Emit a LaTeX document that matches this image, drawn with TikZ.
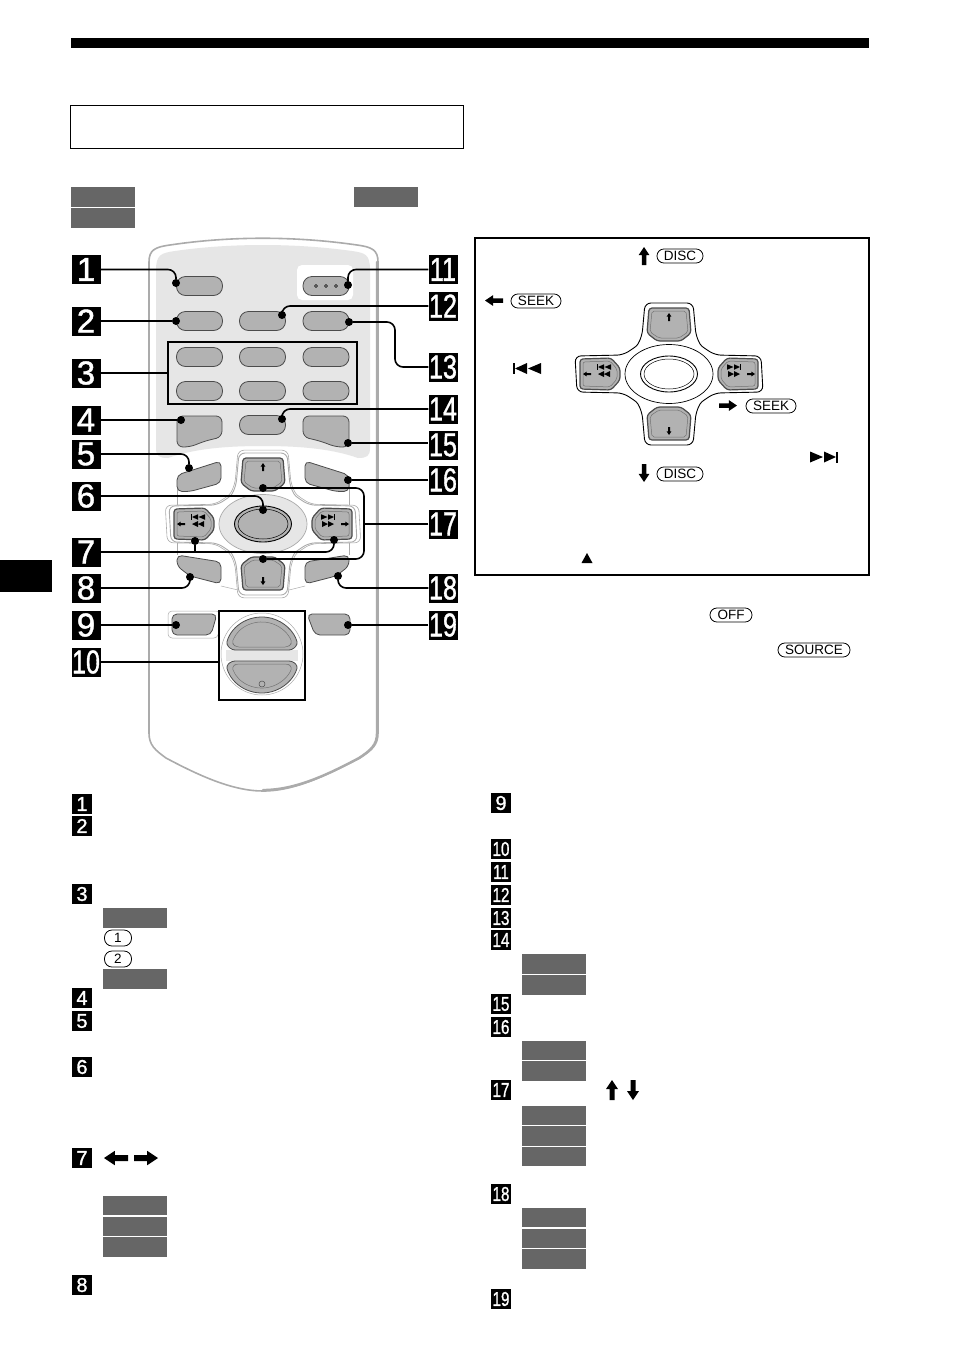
\documentclass[tikz,border=0pt]{standalone}
\usepackage{fontspec}
\setmainfont{Liberation Sans}
\newfontfamily\badgefont[FakeBold=1.3]{Liberation Sans}
\usepackage{tikz}
\usetikzlibrary{positioning}
\definecolor{tagc}{HTML}{666666}
\definecolor{btnc}{HTML}{B2B2B2}
\definecolor{panelc}{HTML}{E6E6E6}
\definecolor{bodyc}{HTML}{ABABAB}
\newcommand{\fitnum}[1]{\ifnum#1>9 \scalebox{.76}[1]{#1}\else #1\fi}
\tikzstyle{dot}=[circle, inner sep=0mm, minimum size=8pt, fill=black]
\tikzstyle{bigbadge}=[fill=black, text=white, minimum size=29pt, inner sep=0pt, font=\fontsize{33}{33}\badgefont]
\tikzstyle{smallbadge}=[fill=black, text=white, minimum size=20pt, inner sep=0pt, font=\fontsize{20}{20}\badgefont]
\tikzstyle{tag}=[fill=tagc, minimum width=64pt, minimum height=19.4pt, inner sep=0pt]
\tikzstyle{pill}=[draw=black, rounded corners=6.9pt, line width=.8pt, inner sep=0pt, minimum height=14pt, font=\fontsize{13.5}{13.5}\selectfont]
\tikzstyle{lead}=[draw=black, line width=1.6pt, rounded corners=8pt]
\tikzstyle{btn}=[fill=btnc, draw=black!70, line width=.8pt, rounded corners=3pt]
\tikzstyle{bump}=[draw=black!55, line width=.5pt]
\newcommand{\roundkey}[2]{\draw[btn, rounded corners=9pt] (#1-23,#2-9.5) rectangle (#1+23,#2+9.5);}
\newcommand{\blockarrow}[4]{\fill[shift={(#1,#2)},rotate=#3,scale=#4] (-10,-2.5) -- (1,-2.5) -- (1,-6) -- (10,0) -- (1,6) -- (1,2.5) -- (-10,2.5) -- cycle;}
\newcommand{\skipglyph}[4]{\begin{scope}[shift={(#1,#2)},xscale=#3,scale=#4]
  \fill (-14,-5.5) -- (-14,5.5) -- (-1,0) -- cycle (0,-5.5) -- (0,5.5) -- (12,0) -- cycle;
  \fill (12,-5.5) rectangle (14,5.5);
  \end{scope}}
\newcommand{\padpath}{(-24,-71) -- (24,-71) -- (27,-38) .. controls (32,-28) .. (46,-19) -- (92,-18) -- (94,18) -- (46,19) .. controls (32,28) .. (27,38) -- (24,71) -- (-24,71) -- (-27,38) .. controls (-32,28) .. (-46,19) -- (-92,18) -- (-94,-18) -- (-46,-19) .. controls (-32,-28) .. (-27,-38) -- cycle}
\newcommand{\crosspad}[5]{\begin{scope}[shift={(#1,#2)}]
  \draw[draw=#3, fill=white, line width=.9pt, rounded corners=6pt] \padpath;
  \draw[draw=#3, line width=.7pt, fill=#4] (0,0) ellipse (44 and 29.5);
  \draw[btn, line width=1.2pt] (-20,-66) -- (20,-66) -- (22,-41) -- (12,-33) -- (-12,-33) -- (-22,-41) -- cycle;
  \draw[btn, line width=1.2pt] (-20,66) -- (20,66) -- (22,41) -- (12,33) -- (-12,33) -- (-22,41) -- cycle;
  \draw[btn, line width=1.2pt] (-89,-15) -- (-58,-16) -- (-49,-6) -- (-49,6) -- (-58,16) -- (-89,15) -- cycle;
  \draw[btn, line width=1.2pt] (89,-15) -- (58,-16) -- (49,-6) -- (49,6) -- (58,16) -- (89,15) -- cycle;
  \draw[bump, rounded corners=2pt] (-17,-63) -- (17,-63) -- (19,-42) -- (10,-36) -- (-10,-36) -- (-19,-42) -- cycle;
  \draw[bump, rounded corners=2pt] (-17,63) -- (17,63) -- (19,42) -- (10,36) -- (-10,36) -- (-19,42) -- cycle;
  \draw[bump, rounded corners=2pt] (-86,-12) -- (-59,-13) -- (-52,-5) -- (-52,5) -- (-59,13) -- (-86,12) -- cycle;
  \draw[bump, rounded corners=2pt] (86,-12) -- (59,-13) -- (52,-5) -- (52,5) -- (59,13) -- (86,12) -- cycle;
  \blockarrow{0}{-57}{90}{.4}
  \blockarrow{0}{57}{270}{.4}
  \blockarrow{-82}{0}{180}{.4}
  \blockarrow{82}{0}{0}{.4}
  \skipglyph{-65}{-7}{-1}{.5}
  \fill (-71,0) -- (-65,-3) -- (-65,0) -- (-59,-3) -- (-59,3) -- (-65,0) -- (-65,3) -- cycle;
  \skipglyph{65}{-7}{1}{.5}
  \fill (71,0) -- (65,-3) -- (65,0) -- (59,-3) -- (59,3) -- (65,0) -- (65,3) -- cycle;
  \draw[black, line width=.9pt, fill=#5] (0,0) ellipse (28.5 and 18);
  \draw[black, line width=.5pt, fill=#5] (0,0) ellipse (25 and 15);
  \end{scope}}
\begin{document}
\begin{tikzpicture}[x=1pt, y=-1pt]
    \useasboundingbox (0,0) rectangle (954,1352);
    \fill (71,38) rectangle (869,48);
    \fill (0,560) rectangle (52,592);
    \draw[line width=.6pt] (70.5,105) rectangle (463.5,148.5);
    \node[tag] at (103,197) {};
    \node[tag] at (103,218) {};
    \node[tag] at (386,197) {};

    \draw[fill=white, draw=bodyc, line width=1.6pt] (149,733) -- (149,262) .. controls (149,250) and (155,247) .. (170,245) .. controls (230,236) and (295,236) .. (357,245) .. controls (372,247) and (378,250) .. (378,262) -- (378,733) .. controls (378,745) and (372,750) .. (360,758) .. controls (327,775) and (295,791) .. (263,791) .. controls (232,791) and (198,775) .. (166,758) .. controls (155,750) and (149,745) .. cycle;
    \draw[draw=bodyc, line width=2.4pt, line cap=round] (377,262) -- (377,733) .. controls (377,745) and (371,750) .. (359,758) .. controls (327,775) and (295,790) .. (263,790);
    \fill[panelc] (156,270) .. controls (156,254) and (162,253) .. (175,251) .. controls (230,243) and (295,243) .. (352,251) .. controls (365,253) and (370,254) .. (370,270) -- (370,448) .. controls (370,456) and (367,458) .. (358,458) .. controls (330,448) and (295,446) .. (263,446) .. controls (230,446) and (196,448) .. (168,458) .. controls (159,458) and (156,456) .. (156,448) -- cycle;
    \fill[white, rounded corners=5pt] (297,265) rectangle (353,300);
    \draw[bodyc, line width=.5pt] (177,480) -- (177,555) (349,480) -- (349,555);
    \draw[bodyc, line width=.5pt] (221,586) -- (238,590) (305,586) -- (289,590);

    \roundkey{199.5}{286}
    \foreach \x in {199.5,262.5,326}{
      \roundkey{\x}{321}
      \roundkey{\x}{357}
      \roundkey{\x}{391}
    }
    \roundkey{326}{286}
    \roundkey{262.5}{425}
    \foreach \x in {316,326,336}{
      \draw[line width=.4pt] (\x-1.5,286) -- (\x,284.5) -- (\x+1.5,286) -- (\x,287.5) -- cycle;
    }
    \draw[btn, rounded corners=6pt] (177,416) -- (222,416) -- (222,437) -- (205,441) -- (190,447) -- (177,447) -- cycle;
    \draw[btn, rounded corners=6pt] (349,416) -- (303,416) -- (303,437) -- (320,441) -- (336,447) -- (349,447) -- cycle;
    \draw[btn, rounded corners=5pt] (177,475) -- (221,461) -- (221,483) -- (190,491.5) -- (177,491.5) -- cycle;
    \draw[btn, rounded corners=5pt] (349,475) -- (305,461) -- (305,483) -- (336,491.5) -- (349,491.5) -- cycle;
    \draw[btn, rounded corners=5pt] (177,555) -- (221,562) -- (221,584) -- (190,576) -- (177,566) -- cycle;
    \draw[btn, rounded corners=5pt] (349,555) -- (305,562) -- (305,584) -- (336,576) -- (349,566) -- cycle;
    \draw[shift={(263,524)}, scale=1.04, draw=bodyc, fill=white, line width=.6pt, rounded corners=6pt] \padpath;
    \crosspad{263}{524}{bodyc}{panelc}{btnc}

    \draw[bodyc, line width=.5pt, rounded corners=4pt] (168,611) -- (220,611) -- (218,638) -- (168,638) -- cycle;
    \draw[btn, rounded corners=5pt] (172,614) -- (217,614) -- (211,635) -- (172,635) -- cycle;
    \draw[btn, rounded corners=5pt] (307,614) -- (350,614) -- (350,635) -- (315,635) -- cycle;

    \draw[bodyc, line width=.5pt, fill=white] (262,654) circle (41);
    \fill[panelc] (226,650) rectangle (298,661);
    \draw[btn] ([shift={(262,654)}]165:37pt) arc (165:15:37pt) -- (292,650) -- (232,650) -- cycle;
    \draw[btn] ([shift={(262,656)}]195:37pt) arc (195:345:37pt) -- (292,661) -- (232,661) -- cycle;
    \draw[bump, rounded corners=3pt] ([shift={(262,654)}]160:32pt) arc (160:20:32pt) -- (288,647) -- (236,647) -- cycle;
    \draw[bump, rounded corners=3pt] ([shift={(262,656)}]200:32pt) arc (200:340:32pt) -- (288,664) -- (236,664) -- cycle;
    \draw[black!70, line width=.5pt] (262,684) circle (3);

    \node[draw, line width=1.8pt, minimum width=189pt, minimum height=62pt, inner sep=0pt] (keys3) at (262.5,373) {};
    \node[draw, line width=1.8pt, minimum width=86pt, minimum height=89pt, inner sep=0pt] (knob10) at (262,655.5) {};

    \foreach \y [count=\n] in {269.5,321,373,420,454,496,552,588,625,662}{
      \node[bigbadge] (b\n) at (86,\y) {\fitnum{\n}};
    }
    \foreach \y [count=\n from 11] in {269.5,306,367,409,445,480,524,588,625}{
      \node[bigbadge] (b\n) at (443,\y) {\fitnum{\n}};
    }
    \foreach \n/\x/\y in {1/176/283,2/176/321,4/181/420,5/189/468,6/263/510,7/195/541,8/190/577,9/176/625,11/348/285,12/282/315,13/349/322,14/282/419,15/348/443,16/348/480,17/263/488,18/338/576,19/348/625}{
      \node[dot] (d\n) at (\x,\y) {};
    }
    \node[dot] (d7r) at (334,540) {};
    \node[dot] (d17b) at (263,559) {};
    \coordinate (k13) at (395,367);
    \coordinate (k17t) at (364,488);
    \coordinate (k17) at (364,524);
    \coordinate (k17b) at (364,559);

    \draw[lead] (b1.east) -| (d1);
    \draw[lead] (b2) -- (d2);
    \draw[lead] (b3) -- (keys3.west);
    \draw[lead] (b4) -- (d4);
    \draw[lead] (b5.east) -| (d5);
    \draw[lead] (b6.east) -| (d6);
    \draw[lead] (b7.east) -| (d7r);
    \draw[lead] (d7) -- (d7 |- b7);
    \draw[lead] (b8.east) -| (d8);
    \draw[lead] (b9) -- (d9);
    \draw[lead] (b10) -- (b10 -| knob10.west);
    \draw[lead] (b11.west) -| (d11);
    \draw[lead] (b12.west) -| (d12);
    \draw[lead] (d13) -| (k13) -- (b13);
    \draw[lead] (b14.west) -| (d14);
    \draw[lead] (d15) -- (d15 -| b15.west);
    \draw[lead] (b16) -- (d16);
    \draw[lead] (d17) -- (k17t) -- (k17b) -- (d17b);
    \draw[lead] (b17) -- (k17);
    \draw[lead] (b18.west) -| (d18);
    \draw[lead] (b19) -- (d19);

    \draw[line width=2pt] (475,238) rectangle (869,575);
    \crosspad{669}{374}{black}{white}{white}
    \blockarrow{644}{256}{90}{.9}
    \node[pill, minimum width=46pt] (disc1) at (680,256) {DISC};
    \blockarrow{494}{300.5}{180}{.9}
    \node[pill, minimum width=50pt] (seek1) at (536,301) {SEEK};
    \blockarrow{728}{405.5}{0}{.9}
    \node[pill, minimum width=50pt] (seek2) at (771,406) {SEEK};
    \blockarrow{644}{473}{270}{.9}
    \node[pill, minimum width=46pt] (disc2) at (680,474) {DISC};
    \skipglyph{527}{368.5}{-1}{1}
    \skipglyph{824}{457}{1}{1}
    \fill (581.5,563) -- (592.5,563) -- (587,553) -- cycle;
    \node[pill, minimum width=42pt] (off) at (731,615) {OFF};
    \node[pill, minimum width=72pt] (source) at (814,650) {SOURCE};

    \foreach \y [count=\n] in {804,826,894,998,1021,1067,1158,1285}{
      \node[smallbadge] (s\n) at (82,\y) {\n};
    }
    \foreach \y [count=\n from 9] in {803,849,872,895,918,940,1004,1027,1090,1194,1299}{
      \node[smallbadge] (s\n) at (501,\y) {\fitnum{\n}};
    }
    \foreach \y in {918,979,1205.7,1226.3,1246.8}{
      \node[tag] at (135,\y) {};
    }
    \foreach \y in {964,985,1050.5,1071,1115.5,1136,1156.5,1217.7,1238.3,1258.8}{
      \node[tag] at (554,\y) {};
    }
    \node[pill, minimum width=27pt, minimum height=16pt, rounded corners=7.5pt] (one) at (118,938) {1};
    \node[pill, minimum width=27pt, minimum height=16pt, rounded corners=7.5pt] (two) at (118,959) {2};
    \blockarrow{116}{1158}{180}{1.2}
    \blockarrow{146}{1158}{0}{1.2}
    \blockarrow{612}{1090}{90}{1}
    \blockarrow{633}{1090}{270}{1}
\end{tikzpicture}
\end{document}
